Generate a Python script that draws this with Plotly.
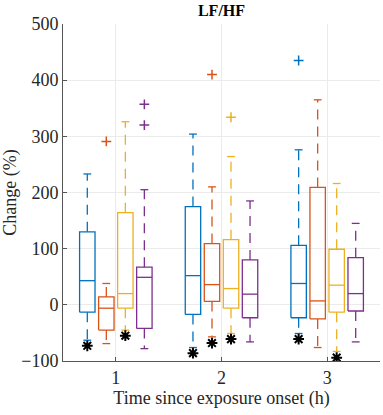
import plotly.graph_objects as go

groups = [1, 2, 3]
series_names = ["S1", "S2", "S3", "S4"]
colors = ["#0072BD", "#D95319", "#EDB120", "#7E2F8E"]
offsets = [-0.27, -0.09, 0.09, 0.27]

# per series: lists over groups 1..3
q1 = [[-13, -17, -23], [-45, 6, -25], [-6, -6, -13], [-42, -23, -11]]
med = [[43, 52, 38], [-6, 36, 7], [20, 29, 35], [49, 19, 20]]
q3 = [[130, 175, 106], [14, 109, 209], [164, 116, 99], [67, 80, 84]]
lo = [[-63, -76, -51], [-69, -57, -76], [-45, -51, -83], [-78, -66, -66]]
hi = [[233, 304, 276], [38, 210, 365], [326, 264, 216], [205, 185, 145]]
outliers = [
    [[], [], [435]],
    [[291], [410], []],
    [[], [334], []],
    [[357, 320], [], []],
]
stars = [
    [-73, -86, -61],
    [None, -68, None],
    [-55, -61, -94],
    [None, None, None],
]

HW = 0.073
CW = 0.037

fig = go.Figure()
for s in range(4):
    c = colors[s]
    bx, by, wx, wy, ox, oy, sx, sy = [], [], [], [], [], [], [], []
    for g in range(3):
        xc = groups[g] + offsets[s]
        bx += [xc - HW, xc + HW, xc + HW, xc - HW, xc - HW, None]
        by += [q1[s][g], q1[s][g], q3[s][g], q3[s][g], q1[s][g], None]
        bx += [xc - HW, xc + HW, None]
        by += [med[s][g], med[s][g], None]
        bx += [xc - CW, xc + CW, None, xc - CW, xc + CW, None]
        by += [hi[s][g], hi[s][g], None, lo[s][g], lo[s][g], None]
        wx += [xc, xc, None, xc, xc, None]
        wy += [q3[s][g], hi[s][g], None, q1[s][g], lo[s][g], None]
        for v in outliers[s][g]:
            ox.append(xc)
            oy.append(v)
        if stars[s][g] is not None:
            sx.append(xc)
            sy.append(stars[s][g])
    fig.add_trace(go.Scatter(x=wx, y=wy, mode="lines",
                             line=dict(color=c, width=1.3, dash="10px,7px"),
                             hoverinfo="skip", showlegend=False))
    fig.add_trace(go.Scatter(x=bx, y=by, mode="lines",
                             line=dict(color=c, width=1.3),
                             hoverinfo="skip", showlegend=False))
    if ox:
        fig.add_trace(go.Scatter(x=ox, y=oy, mode="markers",
                                 marker=dict(symbol="cross-thin-open", size=7, color=c,
                                             line=dict(color=c, width=1.5)),
                                 showlegend=False))
    if sx:
        fig.add_trace(go.Scatter(x=sx, y=sy, mode="markers",
                                 marker=dict(symbol="asterisk-open", size=9, color="black",
                                             line=dict(color="black", width=2)),
                                 showlegend=False))

font = "Liberation Serif"
fig.update_layout(
    width=383, height=415,
    margin=dict(l=63, r=3, t=24, b=54),
    plot_bgcolor="white", paper_bgcolor="white",
    font=dict(family=font, size=18, color="#262626"),
    title=dict(text="<b>LF/HF</b>", x=0.5, xanchor="center", xref="paper",
               y=0.975, yref="container", yanchor="middle",
               font=dict(family=font, size=16, color="black")),
    xaxis=dict(range=[0.5, 3.5], tickvals=groups, ticktext=[str(g) for g in groups],
               showgrid=True, gridcolor="#ebebeb", gridwidth=1,
               showline=True, linecolor="#555555", linewidth=1,
               ticks="inside", ticklen=4, tickcolor="#555555",
               zeroline=False, mirror=False, automargin=False,
               tickfont=dict(family=font, size=18),
               title=dict(text="Time since exposure onset (h)", standoff=4,
                          font=dict(family=font, size=18))),
    yaxis=dict(range=[-100, 500], tickvals=[-100, 0, 100, 200, 300, 400, 500],
               showgrid=True, gridcolor="#ebebeb", gridwidth=1,
               showline=True, linecolor="#555555", linewidth=1,
               ticks="inside", ticklen=4, tickcolor="#555555",
               zeroline=False, automargin=False,
               tickfont=dict(family=font, size=18),
               title=dict(text="Change (%)", standoff=4,
                          font=dict(family=font, size=18))),
)
fig.write_html("out.html", config={"displayModeBar": False},
               post_script="document.body.style.margin='0';")
